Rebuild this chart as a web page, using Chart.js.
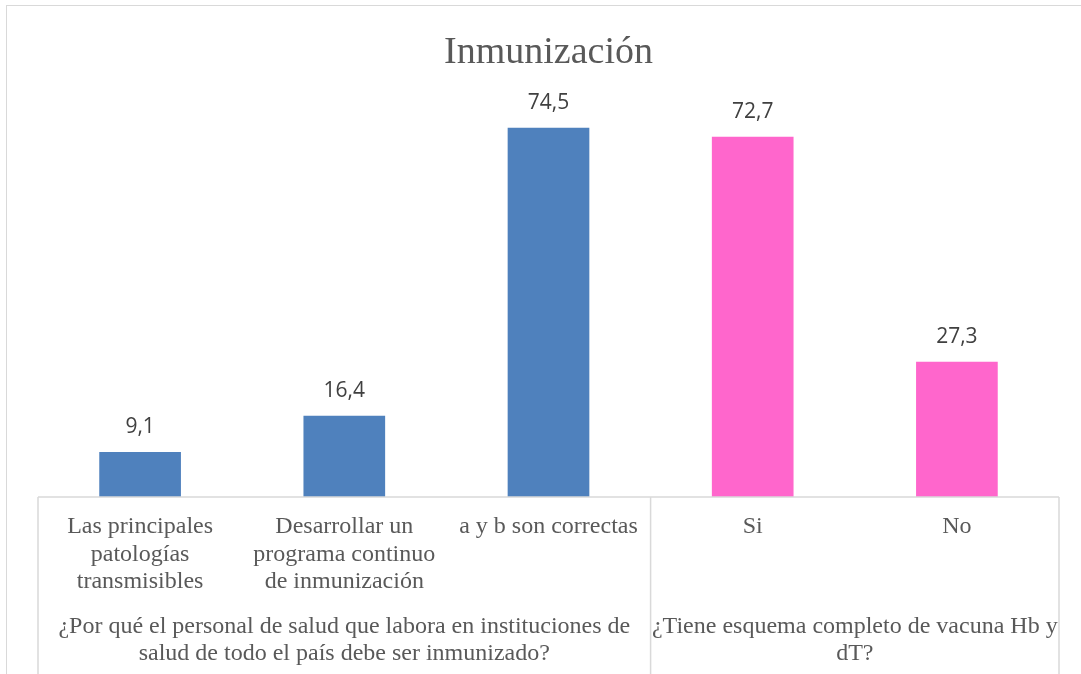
<!DOCTYPE html>
<html>
<head>
<meta charset="utf-8">
<script src="https://cdn.jsdelivr.net/npm/chart.js@4/dist/chart.umd.min.js"></script>
<style>
  body { margin: 0; overflow: hidden; background: #fff; }
  #frame { position: absolute; left: 6px; top: 5px; width: 1100px; height: 700px; border: 1.5px solid #d9d9d9; }
  #wrap { position: absolute; left: 0; top: 0; width: 1081px; height: 674px; }
</style>
</head>
<body>
<div id="frame"></div>
<div id="wrap"><canvas id="chart"></canvas></div>
<script>
/* ---------------- DATA ---------------- */
const categories = [
  ["Las principales", "patologías", "transmisibles"],
  ["Desarrollar un", "programa continuo", "de inmunización"],
  ["a y b son correctas"],
  ["Si"],
  ["No"]
];
const values = [9.1, 16.4, 74.5, 72.7, 27.3];
const barColors = ["#4F81BD", "#4F81BD", "#4F81BD", "#FF66CC", "#FF66CC"];
const groupLabels = [
  ["¿Por qué el personal de salud que labora en instituciones de", "salud de todo el país debe ser inmunizado?"],
  ["¿Tiene esquema completo de vacuna Hb y", "dT?"]
];
const groupStarts = [0, 3];
const groupEnds = [2, 4];

const serif = "'Liberation Serif', 'Times New Roman', serif";
const lineColor = "#d9d9d9";

/* ---------------- LABELS + TABLE ---------------- */
const extras = {
  id: "extras",
  afterDatasetsDraw(chart) {
    const ctx = chart.ctx;
    const x = chart.scales.x;
    const y = chart.scales.y;
    const meta = chart.getDatasetMeta(0);

    // value labels above bars
    ctx.save();
    ctx.font = "21px 'Open Sans', sans-serif";
    ctx.fillStyle = "#404040";
    ctx.textAlign = "center";
    ctx.textBaseline = "middle";
    meta.data.forEach((bar, i) => {
      ctx.fillText(values[i].toFixed(1).replace(".", ","), bar.x, y.getPixelForValue(values[i]) - 25);
    });
    ctx.restore();

    // category table lines
    const half = (x.getPixelForValue(1) - x.getPixelForValue(0)) / 2;
    const top = chart.chartArea.bottom;
    const bottom = chart.height;
    ctx.save();
    ctx.strokeStyle = lineColor;
    ctx.lineWidth = 1.5;
    ctx.beginPath();
    ctx.moveTo(x.getPixelForValue(0) - half, top);
    ctx.lineTo(x.getPixelForValue(4) + half, top);
    [0, 3].forEach(i => {
      const px = x.getPixelForValue(i) - half;
      ctx.moveTo(px, top);
      ctx.lineTo(px, bottom);
    });
    const last = x.getPixelForValue(4) + half;
    ctx.moveTo(last, top);
    ctx.lineTo(last, bottom);
    ctx.stroke();

    // group labels
    ctx.font = "24px " + serif;
    ctx.fillStyle = "#595959";
    ctx.textAlign = "center";
    ctx.textBaseline = "middle";
    groupLabels.forEach((lines, g) => {
      const cx = (x.getPixelForValue(groupStarts[g]) + x.getPixelForValue(groupEnds[g])) / 2;
      lines.forEach((line, k) => {
        ctx.fillText(line, cx, top + 130 + k * 27);
      });
    });
    ctx.restore();
  }
};

/* ---------------- CHART ---------------- */
new Chart(document.getElementById("chart"), {
  type: "bar",
  data: {
    labels: categories,
    datasets: [{
      data: values,
      backgroundColor: barColors,
      categoryPercentage: 1,
      barPercentage: 0.4
    }]
  },
  options: {
    responsive: true,
    maintainAspectRatio: false,
    animation: false,
    layout: { padding: { left: 38, right: 22, top: 0, bottom: 0 } },
    plugins: {
      legend: { display: false },
      tooltip: { enabled: false },
      title: {
        display: true,
        text: "Inmunización",
        color: "#595959",
        font: { family: serif, size: 38, weight: "normal" },
        padding: { top: 30, bottom: 25 }
      }
    },
    scales: {
      x: {
        grid: { display: false, drawTicks: false },
        border: { display: false },
        ticks: {
          color: "#595959",
          font: { family: serif, size: 24, lineHeight: 1.15 },
          padding: 16,
          maxRotation: 0,
          autoSkip: false
        },
        afterFit: axis => { axis.height = 177; }
      },
      y: {
        display: false,
        min: 0,
        max: 80
      }
    }
  },
  plugins: [extras]
});
</script>
</body>
</html>
